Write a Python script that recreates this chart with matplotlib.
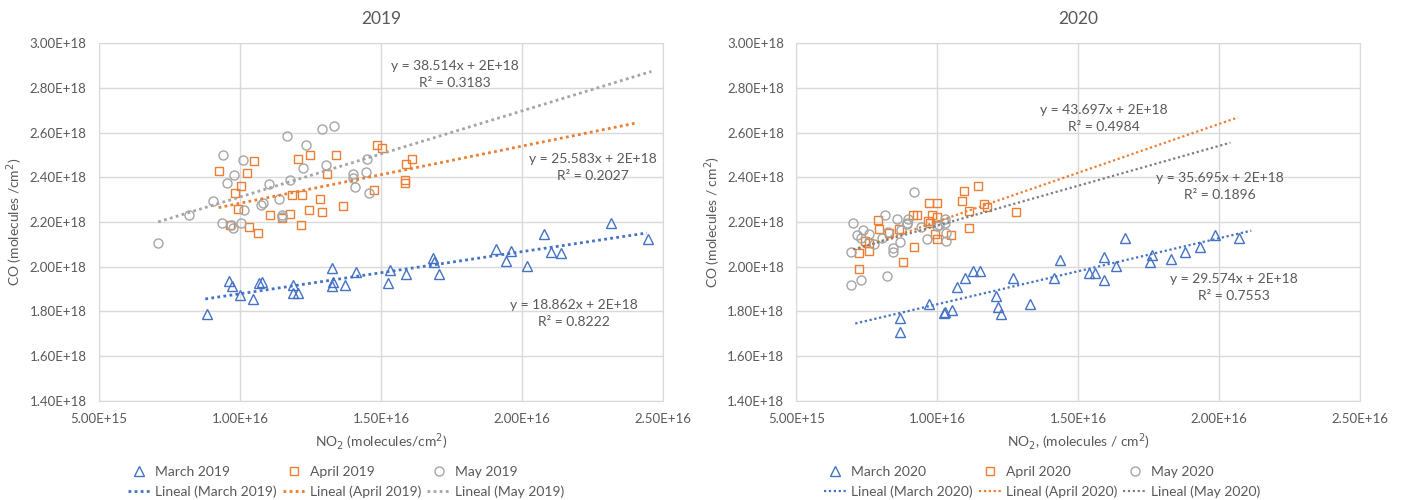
import numpy as np
import matplotlib
matplotlib.use('Agg')
import matplotlib.pyplot as plt
from matplotlib.ticker import FuncFormatter
from matplotlib.lines import Line2D

plt.rcParams['font.family'] = ['Lato', 'DejaVu Sans']

# x in 1E16 molecules/cm2, y in 1E18 molecules/cm2
mar19_x = [0.882, 0.962, 0.973, 1.000, 1.047, 1.069, 1.077, 1.189, 1.187, 1.204, 1.325, 1.329, 1.325, 1.372, 1.410,
           1.525, 1.532, 1.590, 1.686, 1.688, 1.704, 1.908, 1.945, 1.960, 2.019, 2.079, 2.103, 2.139, 2.316, 2.446]
mar19_y = [1.789, 1.937, 1.914, 1.872, 1.857, 1.925, 1.932, 1.918, 1.884, 1.884, 1.994, 1.932, 1.914, 1.918, 1.974,
           1.925, 1.985, 1.967, 2.038, 2.023, 1.967, 2.077, 2.027, 2.068, 2.004, 2.148, 2.064, 2.060, 2.197, 2.125]
apr19_x = [0.924, 1.048, 1.024, 1.005, 0.982, 0.992, 0.965, 1.031, 1.064, 1.108, 1.148, 1.177, 1.217, 1.184, 1.221,
           1.207, 1.248, 1.284, 1.243, 1.292, 1.339, 1.310, 1.367, 1.475, 1.486, 1.502, 1.585, 1.585, 1.590, 1.609]
apr19_y = [2.430, 2.473, 2.421, 2.361, 2.330, 2.260, 2.187, 2.176, 2.152, 2.231, 2.216, 2.236, 2.185, 2.319, 2.319,
           2.481, 2.500, 2.301, 2.254, 2.246, 2.500, 2.413, 2.270, 2.345, 2.545, 2.533, 2.387, 2.375, 2.459, 2.480]
may19_x = [0.710, 0.820, 0.905, 0.941, 0.953, 0.980, 1.009, 0.935, 0.968, 0.976, 1.002, 1.015, 1.074, 1.083, 1.104,
           1.137, 1.148, 1.150, 1.177, 1.165, 1.233, 1.290, 1.335, 1.225, 1.305, 1.402, 1.402, 1.408, 1.446, 1.449, 1.459]
may19_y = [2.107, 2.231, 2.296, 2.500, 2.376, 2.412, 2.476, 2.194, 2.187, 2.172, 2.194, 2.254, 2.276, 2.287, 2.370,
           2.301, 2.231, 2.221, 2.388, 2.585, 2.546, 2.616, 2.630, 2.440, 2.455, 2.413, 2.398, 2.357, 2.422, 2.480, 2.332]

mar20_x = [0.868, 0.868, 0.970, 1.025, 1.027, 1.051, 1.069, 1.098, 1.128, 1.151, 1.210, 1.216, 1.227, 1.267, 1.329,
           1.413, 1.437, 1.537, 1.560, 1.593, 1.593, 1.634, 1.667, 1.755, 1.763, 1.831, 1.878, 1.932, 1.984, 2.071]
mar20_y = [1.708, 1.771, 1.832, 1.792, 1.795, 1.804, 1.907, 1.949, 1.979, 1.982, 1.869, 1.820, 1.789, 1.949, 1.832,
           1.949, 2.031, 1.972, 1.972, 2.042, 1.940, 2.004, 2.128, 2.019, 2.054, 2.034, 2.064, 2.087, 2.140, 2.128]
apr20_x = [0.722, 0.722, 0.759, 0.759, 0.788, 0.795, 0.830, 0.863, 0.877, 0.916, 0.913, 0.929, 0.972, 1.000, 0.983,
           0.998, 0.974, 0.992, 0.998, 1.047, 1.089, 1.096, 1.112, 1.112, 1.144, 1.165, 1.175, 1.278, 0.745, 0.968]
apr20_y = [1.991, 2.063, 2.072, 2.107, 2.207, 2.167, 2.151, 2.170, 2.022, 2.087, 2.230, 2.230, 2.287, 2.287, 2.230,
           2.221, 2.194, 2.146, 2.125, 2.142, 2.296, 2.337, 2.251, 2.172, 2.361, 2.279, 2.266, 2.245, 2.115, 2.205]
may20_x = [0.693, 0.729, 0.693, 0.700, 0.716, 0.728, 0.738, 0.757, 0.774, 0.803, 0.814, 0.823, 0.826, 0.842, 0.844,
           0.858, 0.868, 0.871, 0.891, 0.897, 0.917, 0.944, 0.962, 1.000, 1.007, 1.026, 1.027, 1.030, 1.031, 0.894]
may20_y = [1.918, 1.940, 2.067, 2.194, 2.142, 2.130, 2.164, 2.145, 2.101, 2.127, 2.231, 1.958, 2.157, 2.066, 2.082,
           2.215, 2.110, 2.164, 2.190, 2.215, 2.333, 2.176, 2.125, 2.182, 2.187, 2.213, 2.194, 2.152, 2.116, 2.197]

# trend lines: slope (per equation), intercept (1E18) and x span (1E16) as drawn
trend19_slope = [18.862, 25.583, 38.514]
trend19_icpt = [1.690, 2.028, 1.927]
trend19_x0 = [0.877, 0.924, 0.710]
trend19_x1 = [2.443, 2.403, 2.459]
trend20_slope = [29.574, 43.697, 35.695]
trend20_icpt = [1.536, 1.765, 1.827]
trend20_x0 = [0.709, 0.722, 0.702]
trend20_x1 = [2.114, 2.067, 2.040]

eq19 = ['y = 18.862x + 2E+18\nR² = 0.8222', 'y = 25.583x + 2E+18\nR² = 0.2027', 'y = 38.514x + 2E+18\nR² = 0.3183']
eq19_pos = [(2.185, 1.790), (2.25, 2.442), (1.763, 2.861)]
eq20 = ['y = 29.574x + 2E+18\nR² = 0.7553', 'y = 43.697x + 2E+18\nR² = 0.4984', 'y = 35.695x + 2E+18\nR² = 0.1896']
eq20_pos = [(2.052, 1.909), (1.590, 2.663), (2.003, 2.360)]

months = ['March', 'April', 'May']
colors = ['#4472C4', '#ED7D31', '#A5A5A5']
markers = ['^', 's', 'o']
msizes = [7, 6.2, 6.5]
txt = '#595959'
grid_c = '#D9D9D9'

fig = plt.figure(figsize=(14.04, 5.0), dpi=100)


def sci(v, pos):
    return f'{v:.2E}'


def draw(ax, year, xs, ys, slopes, icpts, x0s, x1s, eqs, eq_pos, tcolors, tlw, xlabel, ylabel, leg_x):
    for i in range(3):
        ax.plot(np.array(xs[i]) * 1e16, np.array(ys[i]) * 1e18, linestyle='none', marker=markers[i],
                ms=msizes[i], mfc='none', mec=colors[i], mew=1.0, zorder=3)
        tx = np.array([x0s[i], x1s[i]]) * 1e16
        ax.plot(tx, slopes[i] * tx + icpts[i] * 1e18, color=tcolors[i], lw=tlw[i],
                linestyle=(0, (1, 1.2)), zorder=4)
        ax.text(eq_pos[i][0] * 1e16, eq_pos[i][1] * 1e18, eqs[i], ha='center', va='center',
                fontsize=10, color=txt, linespacing=1.5, zorder=5)
    ax.set_xlim(5e15, 2.5e16)
    ax.set_ylim(1.4e18, 3.0e18)
    ax.set_xticks(np.arange(5e15, 2.51e16, 5e15))
    ax.set_yticks(np.arange(1.4e18, 3.01e18, 2e17))
    ax.xaxis.set_major_formatter(FuncFormatter(sci))
    ax.yaxis.set_major_formatter(FuncFormatter(sci))
    ax.tick_params(length=0, labelsize=9.5, colors=txt)
    ax.tick_params(axis='x', pad=9)
    ax.tick_params(axis='y', pad=9)
    ax.grid(True, color=grid_c, lw=1)
    ax.set_axisbelow(True)
    for s in ax.spines.values():
        s.set_color(grid_c)
    ax.set_title(year, fontsize=12.5, color=txt, pad=14)
    ax.set_xlabel(xlabel, fontsize=10, color=txt, labelpad=4)
    ax.set_ylabel(ylabel, fontsize=10, color=txt, labelpad=3)

    handles, labels = [], []
    for i in range(3):
        handles.append(Line2D([], [], linestyle='none', marker=markers[i], ms=msizes[i], mfc='none',
                              mec=colors[i], mew=1.0))
        labels.append(f'{months[i]} {year}')
        handles.append(Line2D([], [], color=tcolors[i], lw=tlw[i], linestyle=(0, (1, 1.2))))
        labels.append(f'Lineal ({months[i]} {year})')
    fig.legend(handles, labels, ncol=3, loc='upper center', bbox_to_anchor=(leg_x, 0.068),
               frameon=False, fontsize=10, labelcolor=txt, handlelength=1.7, handletextpad=0.3,
               columnspacing=0.4, labelspacing=0.55, borderaxespad=0, borderpad=0)


ax1 = fig.add_axes([0.0705, 0.1986, 0.4017, 0.7148])
draw(ax1, '2019', [mar19_x, apr19_x, may19_x], [mar19_y, apr19_y, may19_y],
     trend19_slope, trend19_icpt, trend19_x0, trend19_x1, eq19, eq19_pos,
     ['#4472C4', '#ED7D31', '#A5A5A5'], [2.0, 2.0, 2.0],
     r'NO$_2$ (molecules/cm$^2$)', r'CO (molecules /cm$^2$)', 346 / 1404)

ax2 = fig.add_axes([0.5672, 0.1986, 0.4015, 0.7148])
draw(ax2, '2020', [mar20_x, apr20_x, may20_x], [mar20_y, apr20_y, may20_y],
     trend20_slope, trend20_icpt, trend20_x0, trend20_x1, eq20, eq20_pos,
     ['#4472C4', '#ED7D31', '#7F7F7F'], [1.6, 1.6, 1.6],
     r'NO$_2$, (molecules / cm$^2$)', r'CO (molecules / cm$^2$)', 1042 / 1404)

fig.savefig('out.png', dpi=100)
